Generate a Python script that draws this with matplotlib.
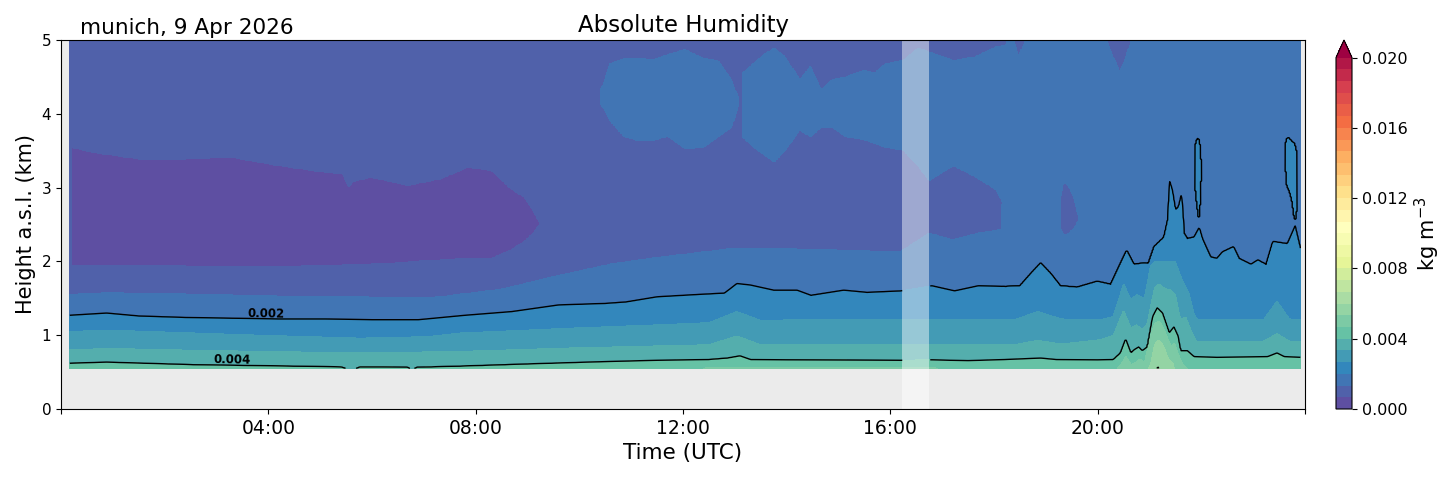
import numpy as np
import matplotlib
matplotlib.use("Agg")
import matplotlib.pyplot as plt
from matplotlib.colors import BoundaryNorm
from matplotlib.path import Path

# Contour levels and colour bar ticks (kg m^-3)
LEVELS = np.linspace(0, 0.02, 31)
LINE_LEVELS = [0.002, 0.004, 0.006]
CBAR_TICKS = [0.0, 0.004, 0.008, 0.012, 0.016, 0.020]

# Time (h UTC) covered by the retrieval and the data gap
DATA_START, DATA_END = 0.17, 23.92
GAP_START, GAP_END = 16.23, 16.75
GROUND = 0.55  # lowest retrieval height (km)

# Heights (km) of each humidity isoline
# 0.00133 kg m^-3 (top of the moist layer)
t_k2 = [0.17, 0.9, 2.5, 5.0, 7.1, 8.5, 9.5, 10.6, 11.5, 13.05, 15.0, 16.2, 16.75, 17.2, 17.7, 18.15, 18.25, 23.92]
h_k2 = [1.545, 1.575, 1.55, 1.52, 1.50, 1.62, 1.79, 1.96, 2.05, 2.18, 2.15, 2.13, 2.38, 2.29, 2.38, 2.43, 5.4, 5.4]
# 0.002 kg m^-3
t_k3 = [0.17, 0.88, 1.5, 2.4, 3.3, 4.2, 5.1, 6.0, 6.9, 7.8, 8.7, 9.1, 9.6, 10.5, 10.9, 11.5, 12.25, 12.8,
        13.04, 13.3, 13.75, 14.2, 14.47, 15.1, 15.55, 16.2, 16.8, 17.24, 17.7, 18.23, 18.5, 18.74, 18.9,
        19.09, 19.28, 19.6, 19.99, 20.25, 20.41, 20.56, 20.7, 20.9, 20.98, 21.09, 21.28, 21.35, 21.39,
        21.44, 21.5, 21.56, 21.62, 21.67, 21.73, 21.86, 21.96, 22.02, 22.18, 22.3, 22.41, 22.62, 22.73,
        22.96, 23.09, 23.25, 23.38, 23.66, 23.81, 23.92]
h_k3 = [1.27, 1.30, 1.26, 1.24, 1.23, 1.22, 1.22, 1.21, 1.21, 1.27, 1.32, 1.36, 1.41, 1.43, 1.45, 1.52, 1.55, 1.57,
        1.70, 1.68, 1.61, 1.61, 1.54, 1.61, 1.58, 1.60, 1.67, 1.60, 1.67, 1.66, 1.67, 1.86, 1.98,
        1.84, 1.67, 1.65, 1.73, 1.69, 1.93, 2.15, 1.96, 1.98, 1.97, 2.20, 2.33, 2.56, 3.08,
        2.97, 2.70, 2.74, 2.92, 2.38, 2.31, 2.33, 2.46, 2.31, 2.06, 2.04, 2.13, 2.20, 2.04,
        1.96, 2.02, 1.96, 2.27, 2.24, 2.48, 2.15]
# 0.00267 kg m^-3
t_k4 = [0.17, 0.9, 3.84, 5.77, 7.06, 7.7, 10.0, 11.5, 12.5, 13.04, 13.5, 14.27, 16.2, 17.48, 18.4, 18.84,
        19.3, 20.06, 20.3, 20.5, 20.64, 20.75, 20.9, 21.02, 21.1, 21.3, 21.5, 21.6, 21.76, 21.85, 21.92,
        23.2, 23.46, 23.7, 23.92]
h_k4 = [1.05, 1.07, 1.00, 0.96, 0.98, 1.03, 1.10, 1.14, 1.17, 1.32, 1.20, 1.21, 1.21, 1.21, 1.21, 1.32,
        1.22, 1.21, 1.25, 1.70, 1.48, 1.55, 1.50, 1.95, 2.0, 2.0, 2.0, 1.80, 1.57, 1.30, 1.21,
        1.21, 1.46, 1.22, 1.21]
# 0.00333 kg m^-3
t_k5 = [0.17, 0.9, 3.0, 5.77, 7.7, 10.0, 12.5, 13.04, 13.5, 16.2, 17.5, 18.4, 18.84, 19.3, 20.06, 20.3,
        20.5, 20.64, 20.75, 20.85, 20.95, 21.1, 21.18, 21.3, 21.4, 21.5, 21.6, 21.7, 21.78, 21.9,
        23.2, 23.46, 23.7, 23.92]
h_k5 = [0.80, 0.82, 0.79, 0.76, 0.78, 0.83, 0.87, 0.99, 0.87, 0.87, 0.87, 0.87, 0.93, 0.88, 0.94, 1.0,
        1.34, 1.10, 1.14, 1.08, 1.15, 1.65, 1.70, 1.63, 1.62, 1.55, 1.21, 1.25, 1.10, 0.92,
        0.92, 1.02, 0.92, 0.92]
# 0.004 kg m^-3
t_k6 = [0.17, 0.88, 2.55, 4.48, 5.4, 5.55, 5.65, 5.77, 6.2, 6.68, 6.78, 6.87, 7.7, 9.0, 10.4, 11.5, 12.5,
        12.86, 13.1, 13.3, 14.0, 16.2, 16.8, 17.5, 18.2, 18.9, 19.2, 20.0, 20.3, 20.44, 20.54, 20.64,
        20.7, 20.79, 20.86, 20.96, 21.06, 21.15, 21.25, 21.38, 21.47, 21.55, 21.6, 21.73, 21.86, 22.3,
        23.28, 23.46, 23.6, 23.92]
h_k6 = [0.62, 0.635, 0.60, 0.58, 0.57, 0.535, 0.535, 0.57, 0.57, 0.565, 0.535, 0.565, 0.58, 0.61, 0.64, 0.66, 0.67,
        0.69, 0.72, 0.67, 0.665, 0.66, 0.665, 0.655, 0.67, 0.69, 0.67, 0.665, 0.67, 0.76, 0.95, 0.76,
        0.80, 0.84, 0.79, 0.84, 1.25, 1.37, 1.30, 1.03, 1.11, 0.99, 0.79, 0.79, 0.71, 0.70,
        0.71, 0.76, 0.71, 0.70]
# 0.00467 kg m^-3
t_k7 = [0.17, 12.0, 12.5, 16.8, 17.3, 20.3, 20.45, 20.54, 20.65, 20.75, 20.82, 20.9, 21.0, 21.1, 21.2,
        21.3, 21.42, 21.48, 21.55, 21.65, 21.8, 23.92]
h_k7 = [0.50, 0.50, 0.565, 0.565, 0.50, 0.50, 0.60, 0.72, 0.60, 0.64, 0.68, 0.62, 0.95, 1.17, 1.19,
        1.05, 0.85, 0.90, 0.75, 0.60, 0.50, 0.50]
# 0.00533 kg m^-3
t_k8 = [0.17, 20.9, 21.02, 21.1, 21.18, 21.28, 21.35, 21.45, 21.52, 23.92]
h_k8 = [0.45, 0.45, 0.60, 0.88, 0.94, 0.85, 0.70, 0.62, 0.45, 0.45]
# 0.006 kg m^-3
t_k9 = [0.17, 21.1, 21.15, 21.18, 21.22, 23.92]
h_k9 = [0.40, 0.40, 0.56, 0.57, 0.40, 0.40]

ISO_VALUES = [0.02 * k / 30 for k in (9, 8, 7, 6, 5, 4, 3, 2)]
ISO_LINES = [(t_k9, h_k9), (t_k8, h_k8), (t_k7, h_k7), (t_k6, h_k6),
             (t_k5, h_k5), (t_k4, h_k4), (t_k3, h_k3), (t_k2, h_k2)]
SURFACE_VALUE = 0.0066
ALOFT_VALUE = 0.001

# Layers aloft: time, top and bottom height (km), humidity inside
dry_t = [0.19, 0.61, 1.51, 2.40, 3.30, 4.19, 5.09, 5.44, 5.55, 5.62, 5.98, 6.70, 7.32, 7.86, 8.31, 8.67, 8.94, 9.11, 9.25]
dry_top = [3.55, 3.48, 3.39, 3.39, 3.41, 3.30, 3.21, 3.19, 3.01, 3.08, 3.14, 3.03, 3.12, 3.28, 3.23, 2.99, 2.87, 2.69, 2.51]
dry_bottom = [1.95, 1.94, 1.95, 1.94, 1.93, 1.93, 1.95, 1.95, 1.96, 1.96, 1.96, 1.99, 2.02, 2.04, 2.04, 2.15, 2.27, 2.38, 2.51]

moist1_t = [10.42, 10.59, 10.87, 11.14, 11.42, 11.70, 12.04, 12.39, 12.67, 12.94, 13.05]
moist1_top = [4.32, 4.68, 4.75, 4.75, 4.73, 4.80, 4.87, 4.75, 4.72, 4.46, 4.23]
moist1_bottom = [4.14, 3.91, 3.69, 3.64, 3.64, 3.70, 3.53, 3.55, 3.69, 3.82, 4.10]

moist2_t = [13.15, 13.36, 13.56, 13.76, 13.97, 14.25, 14.46, 14.67, 14.87, 15.15, 15.50, 15.70, 15.91,
            16.25, 16.53, 16.75, 17.22, 17.64, 18.05, 18.22, 18.30, 18.53]
moist2_top = [4.55, 4.68, 4.80, 4.89, 4.77, 4.46, 4.64, 4.32, 4.46, 4.50, 4.59, 4.55, 4.68,
              4.72, 4.89, 4.84, 4.72, 4.77, 4.91, 4.93, 4.95, 4.96]
moist2_bottom = [3.69, 3.55, 3.45, 3.35, 3.51, 3.78, 3.69, 3.82, 3.82, 3.69, 3.65, 3.60, 3.55,
                 3.51, 3.30, 3.10, 3.30, 3.15, 2.97, 2.75, 2.40, 2.40]

pocket_t = [19.28, 19.33, 19.40, 19.47, 19.55, 19.63]
pocket_top = [2.85, 3.05, 3.06, 2.98, 2.85, 2.62]
pocket_bottom = [2.45, 2.37, 2.36, 2.40, 2.45, 2.55]

notch_t = [18.38, 18.48, 18.60]
notch_top = [5.1, 5.1, 5.1]
notch_bottom = [5.0, 4.78, 5.0]

wedge_t = [20.18, 20.30, 20.42, 20.52, 20.64]
wedge_top = [5.1, 5.1, 5.1, 5.1, 5.1]
wedge_bottom = [5.0, 4.78, 4.57, 4.72, 5.0]

cell1_t = [21.875, 21.89, 21.92, 21.95, 21.98, 21.995]
cell1_top = [3.40, 3.60, 3.67, 3.66, 3.55, 3.30]
cell1_bottom = [3.30, 2.95, 2.75, 2.60, 2.85, 3.20]

cell2_t = [23.615, 23.64, 23.68, 23.72, 23.76, 23.79, 23.815, 23.845]
cell2_top = [3.55, 3.66, 3.68, 3.65, 3.62, 3.60, 3.55, 3.45]
cell2_bottom = [3.45, 3.05, 2.98, 2.90, 2.78, 2.62, 2.56, 2.80]

# (times, tops, bottoms, value, moist?)
FEATURES = [
    (moist1_t, moist1_top, moist1_bottom, 0.0017, True),
    (moist2_t, moist2_top, moist2_bottom, 0.0017, True),
    (dry_t, dry_top, dry_bottom, 0.0004, False),
    (pocket_t, pocket_top, pocket_bottom, 0.001, False),
    (notch_t, notch_top, notch_bottom, 0.001, False),
    (wedge_t, wedge_top, wedge_bottom, 0.001, False),
    (cell1_t, cell1_top, cell1_bottom, 0.0024, True),
    (cell2_t, cell2_top, cell2_bottom, 0.0024, True),
]

# Build the time-height grid
times = np.arange(DATA_START, DATA_END + 1e-6, 0.02)
heights = np.arange(GROUND, 5.0 + 1e-6, 0.01)
T, Z = np.meshgrid(times, heights)

# Isoline heights on the time grid, kept in order from the ground up
iso = np.array([np.interp(times, t, h) for t, h in ISO_LINES])
for i in range(1, len(iso)):
    iso[i] = np.maximum(iso[i], iso[i - 1] + 0.005)

hum = np.zeros_like(T)
for j in range(len(times)):
    col_h = np.concatenate([[0.0], iso[:, j], [6.0]])
    col_v = np.concatenate([[SURFACE_VALUE], ISO_VALUES, [ALOFT_VALUE]])
    hum[:, j] = np.interp(heights, col_h, col_v)

points = np.column_stack([T.ravel(), Z.ravel()])
for t, top, bottom, value, moist in FEATURES:
    outline = np.column_stack([np.concatenate([t, t[::-1]]),
                               np.concatenate([top, bottom[::-1]])])
    inside = Path(outline).contains_points(points).reshape(T.shape)
    if moist:
        hum = np.where(inside, np.maximum(hum, value), hum)
    else:
        hum = np.where(inside, np.minimum(hum, value), hum)

# Contour lines are not drawn across the data gap
gap = (T > GAP_START) & (T < GAP_END)
hum_lines = np.ma.masked_where(gap, hum)

fig = plt.figure(figsize=(14.54, 4.78), dpi=100)
ax = fig.add_axes([61 / 1454, 1 - 409 / 478, 1244 / 1454, 369 / 478])
cax = fig.add_axes([1336 / 1454, 1 - 409 / 478, 16 / 1454, 369 / 478])
ax.set_facecolor("#ebebeb")

cmap = plt.get_cmap("Spectral_r")
norm = BoundaryNorm(LEVELS, ncolors=cmap.N, extend="max")
cf = ax.contourf(T, Z, hum, levels=LEVELS, cmap=cmap, norm=norm, extend="max")
cs = ax.contour(T, Z, hum_lines, levels=LINE_LEVELS, colors="black", linewidths=1.0)
labels = ax.clabel(cs, levels=[0.002, 0.004], fmt="%.3f", inline=False, fontsize=8.5,
                   manual=[(3.96, 1.23), (3.3, 0.60)])
for txt in labels:
    x, y = txt.get_position()
    txt.set_position((x, y + 0.07))
    txt.set_fontweight("bold")

# Data gap shaded white
ax.axvspan(GAP_START, GAP_END, facecolor="white", alpha=0.45, lw=0)

ax.set_xlim(0, 24)
ax.set_ylim(0, 5)
ax.set_xticks([0, 4, 8, 12, 16, 20, 24])
ax.set_xticklabels(["", "04:00", "08:00", "12:00", "16:00", "20:00", ""], fontsize=13.5)
ax.set_yticks([0, 1, 2, 3, 4, 5])
ax.tick_params(axis="y", labelsize=11)
ax.set_xlabel("Time (UTC)", fontsize=15.5)
ax.set_ylabel("Height a.s.l. (km)", fontsize=15)
ax.set_title("Absolute Humidity", fontsize=16.5)
ax.text(0.015, 1.005, "munich, 9 Apr 2026", transform=ax.transAxes,
        fontsize=15.5, ha="left", va="bottom")

cb = fig.colorbar(cf, cax=cax, ticks=CBAR_TICKS, format="%.3f")
cb.ax.minorticks_off()
cb.ax.tick_params(labelsize=11.5)
cb.set_label("kg m$^{-3}$", fontsize=15)

fig.savefig("out.png", dpi=100)
